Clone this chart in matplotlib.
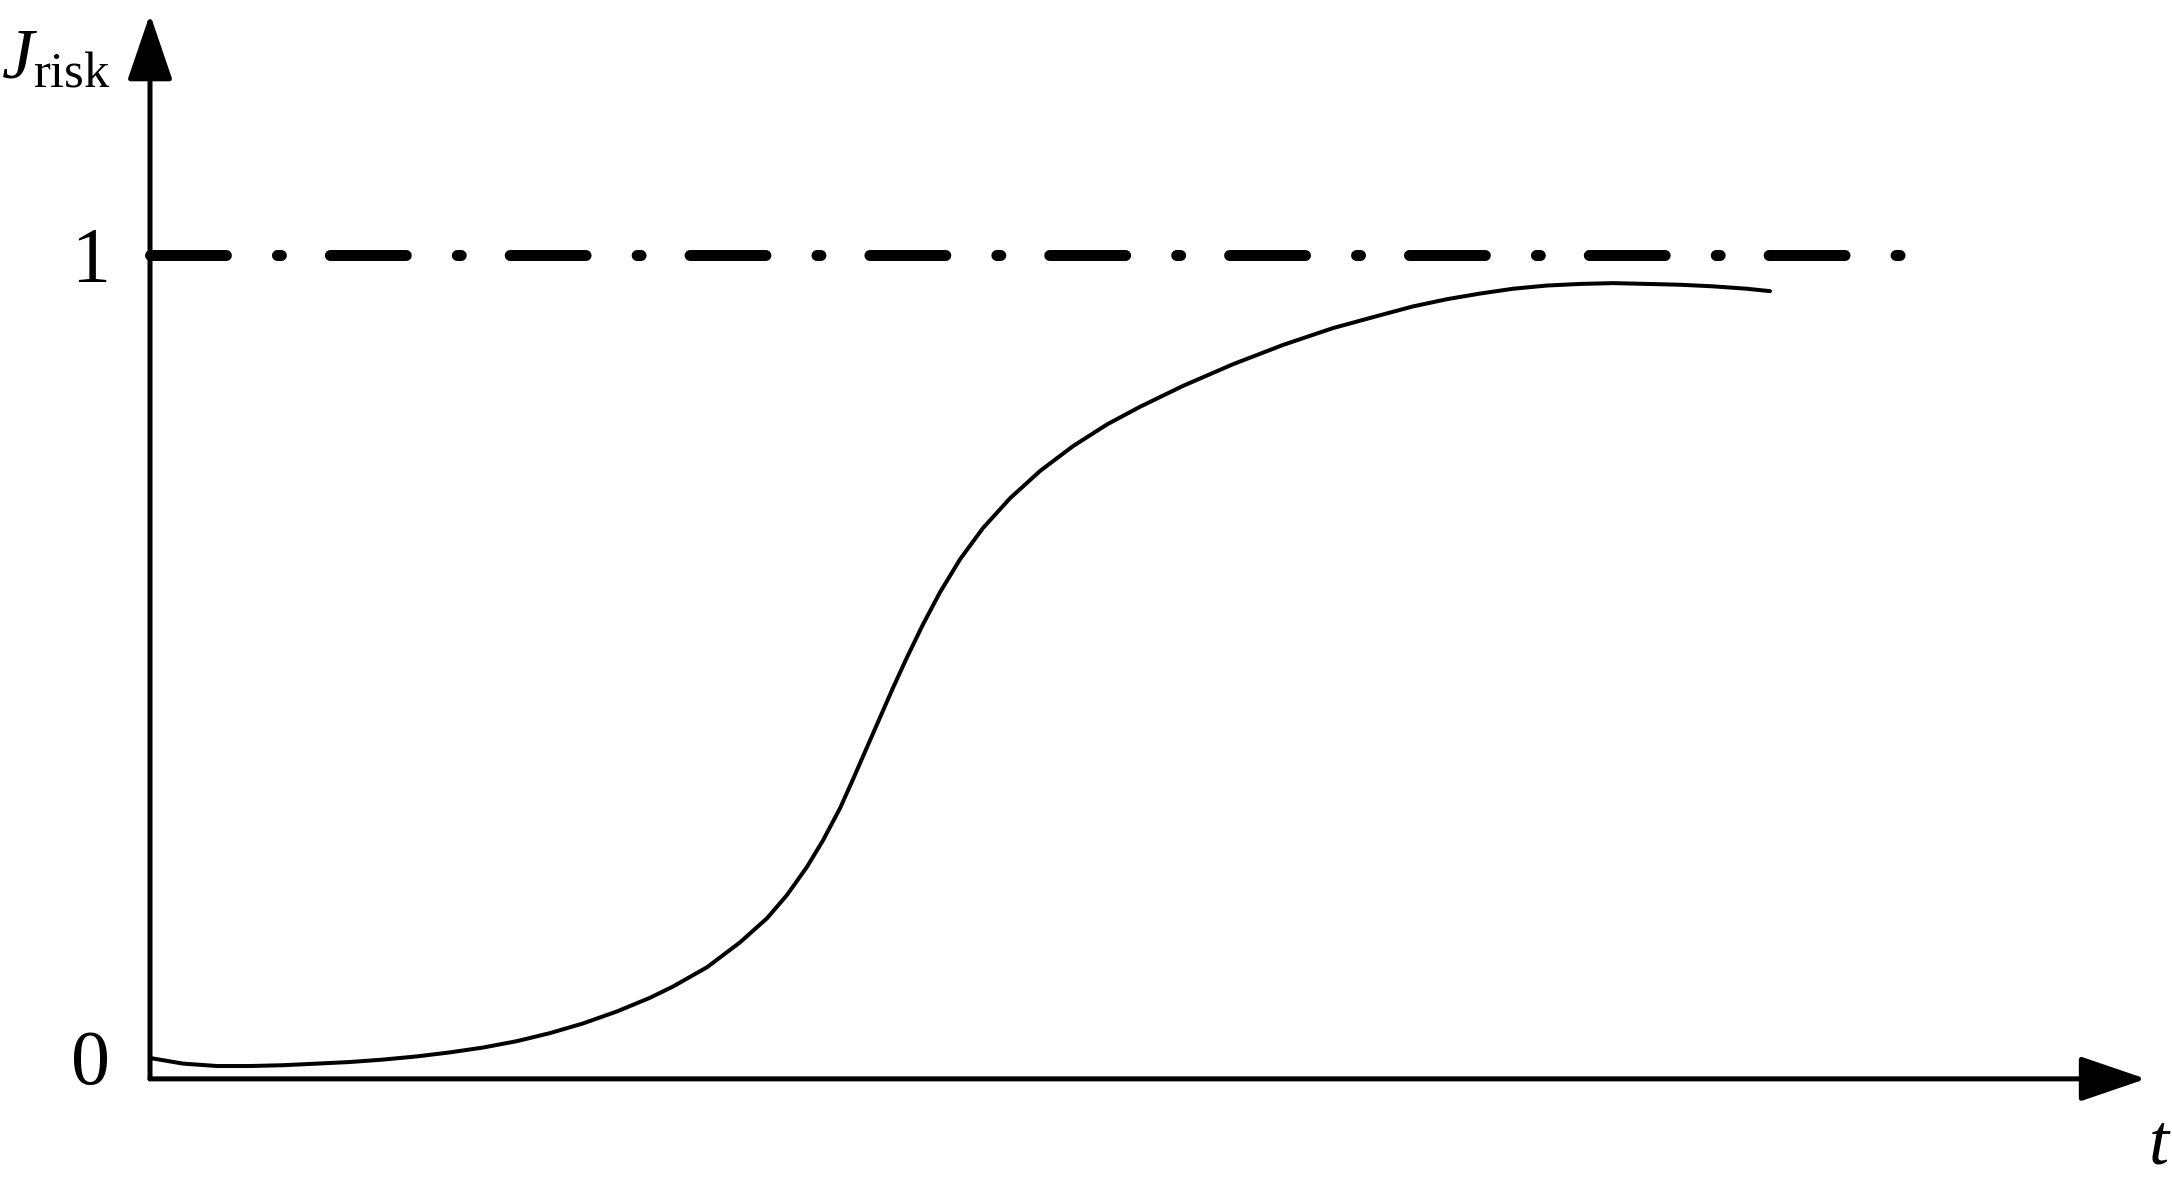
import matplotlib.pyplot as plt
from matplotlib.transforms import offset_copy

# curve
t = [0.00, 0.165, 0.335, 0.50, 0.665, 0.835, 1.00, 1.165, 1.335, 1.50, 1.665,
     1.835, 2.00, 2.165, 2.335, 2.50, 2.615, 2.785, 2.95, 3.085, 3.185, 3.285,
     3.365, 3.45, 3.515, 3.585, 3.65, 3.715, 3.785, 3.865, 3.95, 4.05, 4.165,
     4.30, 4.45, 4.615, 4.785, 4.95, 5.165, 5.415, 5.665, 5.915, 6.15, 6.315,
     6.485, 6.65, 6.815, 6.985, 7.15, 7.315, 7.485, 7.65, 7.815, 7.985, 8.10]
j_risk = [0.000, -0.007, -0.010, -0.010, -0.009, -0.007, -0.005, -0.002, 0.002,
          0.007, 0.013, 0.021, 0.031, 0.043, 0.058, 0.075, 0.089, 0.113, 0.144,
          0.174, 0.203, 0.238, 0.271, 0.311, 0.347, 0.387, 0.424, 0.461, 0.499,
          0.540, 0.580, 0.621, 0.660, 0.697, 0.731, 0.762, 0.789, 0.811, 0.837,
          0.864, 0.888, 0.909, 0.925, 0.936, 0.945, 0.952, 0.958, 0.962, 0.964,
          0.965, 0.964, 0.963, 0.961, 0.958, 0.955]

threshold = 1.0
threshold_t = [0.0, 8.78]
ytick_values = [0, 1]
ytick_labels = ["0", "1"]

plt.rcParams["mathtext.fontset"] = "custom"
plt.rcParams["mathtext.rm"] = "Liberation Serif"
plt.rcParams["mathtext.it"] = "Liberation Serif:italic"
serif = "Liberation Serif"

fig = plt.figure(figsize=(10.86, 5.95), dpi=200)
ax = fig.add_axes([0, 0, 1, 1])
ax.set_xlim(-0.75, 10.11)
ax.set_ylim(-0.1644, 1.3176)
ax.axis("off")

# axes with arrow heads
x_axis_y = -0.026
arrow = dict(arrowstyle="-|>,head_length=20.5,head_width=7", color="k", lw=1.8,
             shrinkA=0, shrinkB=0, mutation_scale=1)
ax.annotate("", xy=(9.98, x_axis_y), xytext=(0, x_axis_y), arrowprops=arrow)
ax.annotate("", xy=(0, 1.30), xytext=(0, x_axis_y), arrowprops=arrow)

# threshold line
ax.plot(threshold_t, [threshold, threshold], color="k", lw=3.96,
        dash_capstyle="round", linestyle=(0, (6.9, 4.64, 0.36, 4.45)))

# risk curve
ax.plot(t, j_risk, color="k", lw=1.44, solid_capstyle="round",
        solid_joinstyle="round")

# labels
lab_tr = offset_copy(ax.transData, fig=fig, y=-9.4, units="points")
for v, s in zip(ytick_values, ytick_labels):
    ax.text(-0.2, v, s, ha="right", va="baseline", fontsize=28, family=serif,
            transform=lab_tr)

ax.text(-0.745, 1.22, r"$J_{\mathrm{risk}}$", fontsize=26, ha="left", va="baseline")
ax.text(10.05, -0.131, r"$t$", fontsize=26, ha="center", va="baseline")

fig.savefig("out.png", dpi=200)
